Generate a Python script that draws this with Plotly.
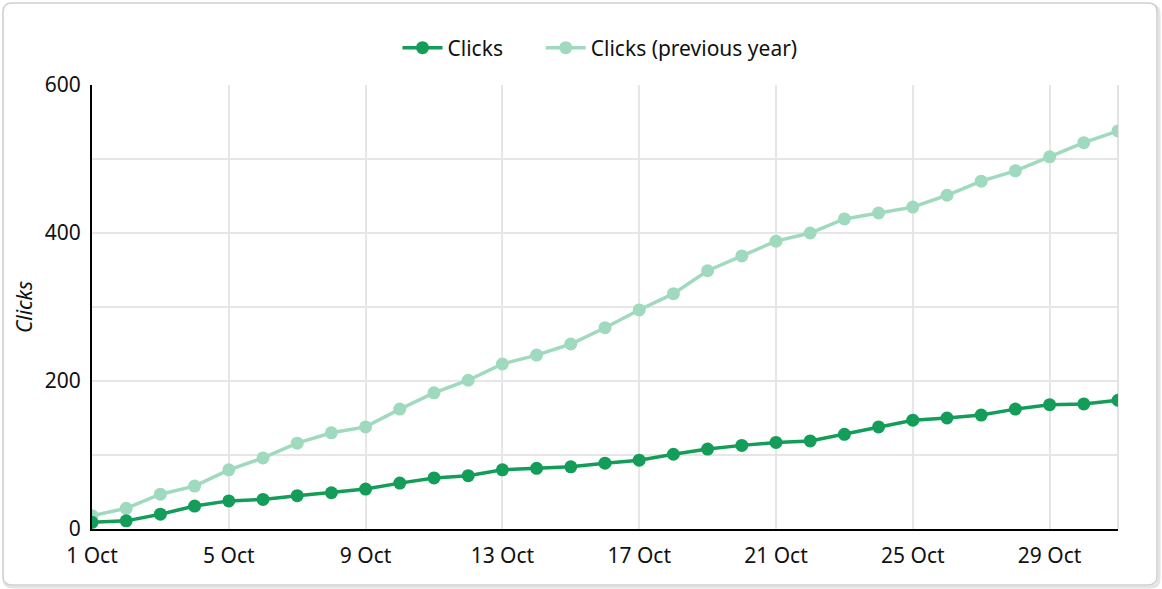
import plotly.graph_objects as go

dates = [f"2023-10-{d:02d}" for d in range(1, 32)]
clicks = [9, 11, 20, 31, 38, 40, 45, 49, 54, 62, 69, 72, 80, 82, 84, 89, 93, 101,
          108, 113, 117, 119, 128, 138, 147, 150, 154, 162, 168, 169, 174]
clicks_prev = [18, 28, 47, 58, 80, 96, 116, 130, 138, 162, 184, 201, 223, 235, 250,
               272, 296, 318, 349, 369, 389, 400, 419, 427, 435, 451, 470, 484, 503,
               522, 538]

DARK = "#139d59"
LIGHT = "#a0dabe"
FONT = "Noto Sans, Open Sans, sans-serif"
PAD = "\u00a0" * 6

fig = go.Figure()
fig.add_trace(go.Scatter(x=dates, y=clicks_prev, name="Clicks (previous year)",
                         mode="lines+markers", legendrank=2,
                         line=dict(color=LIGHT, width=3.5), marker=dict(size=13, color=LIGHT)))
fig.add_trace(go.Scatter(x=dates, y=clicks, name="Clicks" + PAD,
                         mode="lines+markers", legendrank=1,
                         line=dict(color=DARK, width=3.5), marker=dict(size=13, color=DARK)))

W, H = 1162, 589
L, R, T, B = 92, 1118, 85, 529
pw, ph = R - L, B - T

def px(x):
    return (x - L) / pw

def py(y):
    return (B - y) / ph

def card(x0, y0, x1, y1, r):
    return (f"M {px(x0 + r)},{py(y0)} L {px(x1 - r)},{py(y0)} "
            f"Q {px(x1)},{py(y0)} {px(x1)},{py(y0 + r)} L {px(x1)},{py(y1 - r)} "
            f"Q {px(x1)},{py(y1)} {px(x1 - r)},{py(y1)} L {px(x0 + r)},{py(y1)} "
            f"Q {px(x0)},{py(y1)} {px(x0)},{py(y1 - r)} L {px(x0)},{py(y0 + r)} "
            f"Q {px(x0)},{py(y0)} {px(x0 + r)},{py(y0)} Z")

fig.update_layout(
    width=W, height=H,
    margin=dict(l=L, r=W - R, t=T, b=H - B),
    paper_bgcolor="white", plot_bgcolor="white",
    font=dict(family=FONT, size=21, color="#111111"),
    showlegend=True,
    legend=dict(orientation="h", x=px(600), xanchor="center", y=py(48), yanchor="middle",
                font=dict(size=21), itemwidth=40),
    shapes=[
        dict(type="path", path=card(4, 5, 1159, 587, 9), xref="paper", yref="paper",
             layer="below", line=dict(color="#e4e4e4", width=3), fillcolor="rgba(0,0,0,0)"),
        dict(type="path", path=card(3, 3, 1157, 585, 9), xref="paper", yref="paper",
             layer="below", line=dict(color="#cfcfcf", width=1.5), fillcolor="white"),
        dict(type="line", xref="paper", yref="paper", x0=1, x1=1, y0=0, y1=1,
             layer="below", line=dict(color="#e3e3e3", width=2)),
    ],
    xaxis=dict(type="date", range=["2023-10-01", "2023-10-31"],
               tick0="2023-10-01", dtick=4 * 86400000, tickformat="%-d %b",
               showgrid=True, gridcolor="#e6e6e6", gridwidth=2,
               showline=True, linecolor="black", linewidth=2,
               ticks="", ticklabelstandoff=7, zeroline=False),
    yaxis=dict(range=[0, 600], dtick=200, showgrid=True, gridcolor="#e6e6e6", gridwidth=2,
               minor=dict(dtick=100, showgrid=True, gridcolor="#e6e6e6", gridwidth=2),
               showline=True, linecolor="black", linewidth=2, zeroline=False,
               ticks="", ticklabelstandoff=5,
               title=dict(text="<i>Clicks</i>", font=dict(size=21), standoff=6)),
)

fig.write_html("out.html", config={"displayModeBar": False},
               post_script="document.body.style.margin='0';")
